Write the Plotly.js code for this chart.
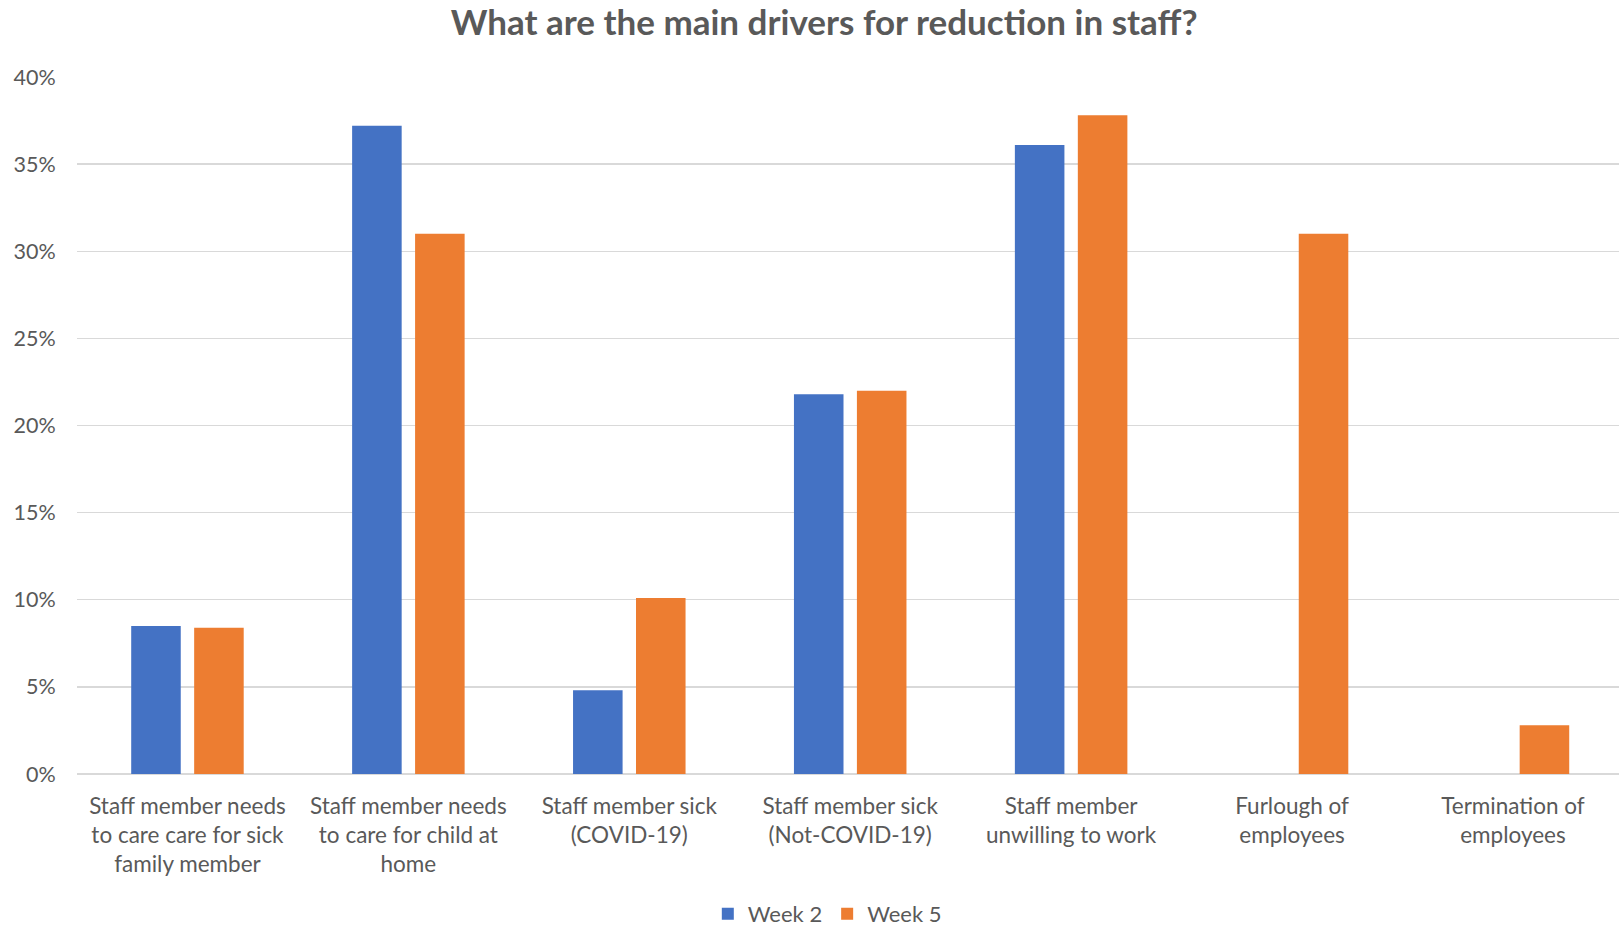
<!DOCTYPE html>
<html>
<head>
<meta charset="utf-8">
<script src="https://cdn.plot.ly/plotly-3.0.1.min.js"></script>
<style>html,body{margin:0;padding:0;background:#fff;}#chart{width:1619px;height:927px;}</style>
</head>
<body>
<div id="chart"></div>
<script>
const categories = [
  "Staff member needs<br>to care care for sick<br>family member",
  "Staff member needs<br>to care for child at<br>home",
  "Staff member sick<br>(COVID-19)",
  "Staff member sick<br>(Not-COVID-19)",
  "Staff member<br>unwilling to work",
  "Furlough of<br>employees",
  "Termination of<br>employees"
];
const week2 = [0.085, 0.372, 0.048, 0.218, 0.361, 0, 0];
const week5 = [0.084, 0.310, 0.101, 0.220, 0.378, 0.310, 0.028];
const yTicks = [0, 0.05, 0.10, 0.15, 0.20, 0.25, 0.30, 0.35, 0.40];

const font = "Lato, 'Open Sans', sans-serif";
const data = [
  {type: 'bar', name: 'Week 2', x: categories, y: week2, marker: {color: '#4472C4'}},
  {type: 'bar', name: 'Week 5', x: categories, y: week5, marker: {color: '#ED7D31'}}
];
const layout = {
  width: 1619, height: 927,
  paper_bgcolor: '#fff', plot_bgcolor: '#fff',
  font: {family: font, color: '#595959', size: 22},
  title: {text: '<b>What are the main drivers for reduction in staff?</b>', font: {family: font, size: 35, color: '#595959'}, x: 0.509, xanchor: 'center', y: 0.975, yanchor: 'middle', yref: 'container'},
  margin: {l: 77, r: 0, t: 77, b: 153},
  barmode: 'group', bargap: 0.43, bargroupgap: 0.213,
  xaxis: {type: 'category', range: [-0.5, 6.48], showline: false, ticks: '', ticklabelstandoff: 16, tickfont: {size: 22.5, color: '#595959'}, automargin: false},
  yaxis: {range: [0, 0.40], tickvals: yTicks, tickformat: '.0%', gridcolor: '#d9d9d9', gridwidth: 1.3, zeroline: true, zerolinecolor: '#d9d9d9', zerolinewidth: 1.3, showline: false, ticks: 'outside', ticklen: 16, tickcolor: 'rgba(0,0,0,0)', tickfont: {size: 21.5, color: '#595959'}, automargin: false},
  showlegend: true,
  legend: {orientation: 'h', xref: 'container', yref: 'container', x: 0.511, xanchor: 'center', y: 0.014, yanchor: 'middle', font: {size: 22, color: '#595959'}, itemwidth: 30, traceorder: 'normal'},
  hovermode: false
};
Plotly.newPlot('chart', data, layout, {displayModeBar: false, staticPlot: true});
</script>
</body>
</html>
